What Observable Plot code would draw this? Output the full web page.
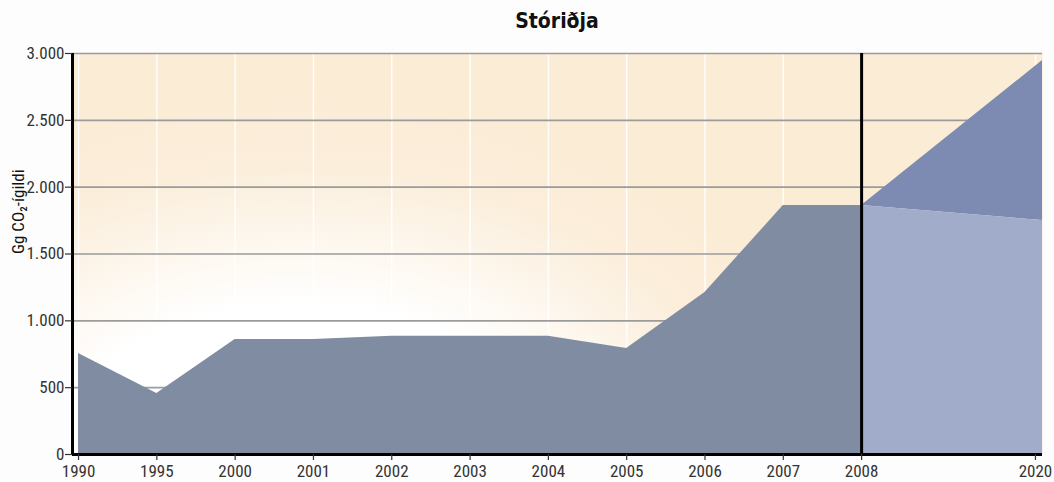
<!DOCTYPE html>
<html>
<head>
<meta charset="utf-8">
<script src="https://cdn.jsdelivr.net/npm/d3@7"></script>
<script src="https://cdn.jsdelivr.net/npm/@observablehq/plot@0.6"></script>
<style>
  html, body { margin: 0; padding: 0; background: #fdfdfd; }
  #title { height: 40px; box-sizing: border-box; padding: 8px 12px 0 72px; text-align: center; line-height: 26px;
           font-family: "DejaVu Sans Condensed", "DejaVu Sans", sans-serif; font-size: 21px; font-weight: bold; color: #111; }
  svg { display: block; }
</style>
</head>
<body>
<div id="title">Stóriðja</div>
<div id="chart"></div>
<script>
// ---- data ----
const years = ["1990", "1995", "2000", "2001", "2002", "2003", "2004", "2005", "2006", "2007", "2008"];
const history = [755, 456, 860, 860, 885, 885, 885, 793, 1212, 1862, 1862];
const projYears = ["2008", "2020"];
const projLow = [1862, 1750];
const projHigh = [1862, 2947];
const tickLabels = ["1990", "1995", "2000", "2001", "2002", "2003", "2004", "2005", "2006", "2007", "2008", "2020"];
const yTicks = [0, 500, 1000, 1500, 2000, 2500, 3000];
const yLabel = "Gg CO₂-ígildi";

// ---- layout helpers ----
const xMin = -0.077, xMax = 12.31;
const slot2020Tick = 12.22;
function slot(year) { const i = years.indexOf(year); return i >= 0 ? i : xMax; }
function tickSlot(year) { const i = years.indexOf(year); return i >= 0 ? i : slot2020Tick; }

const hist = years.map((y, i) => ({x: slot(y), v: history[i]}));
const proj = projYears.map((y, i) => ({x: slot(y), lo: projLow[i], hi: projHigh[i]}));
const xt = tickLabels.map(t => ({x: tickSlot(t), label: t}));

const loc = d3.formatLocale({decimal: ",", thousands: ".", grouping: [3], currency: ["", ""]});
const fmt = loc.format(",");

const FONT = "'Liberation Sans Narrow', 'Roboto Condensed', Roboto, sans-serif";

const chart = Plot.plot({
  width: 1054,
  height: 442,
  marginTop: 13,
  marginBottom: 28,
  marginLeft: 72,
  marginRight: 12,
  style: {fontFamily: FONT, fontSize: "17px", fontWeight: "normal", color: "#333", background: "transparent"},
  x: {type: "linear", domain: [xMin, xMax], axis: null},
  y: {type: "linear", domain: [0, 3000], axis: null},
  marks: [
    Plot.frame({fill: "url(#bgGrad)", stroke: null}),
    Plot.ruleX(xt, {x: "x", stroke: "white", strokeWidth: 1.5, strokeOpacity: 0.9}),
    Plot.ruleY(yTicks.slice(1), {stroke: "#9b9b9b", strokeWidth: 1.6}),
    Plot.areaY(hist, {x: "x", y: "v", fill: "#808ca2"}),
    Plot.areaY(proj, {x: "x", y1: "lo", y2: "hi", fill: "#7d8bb2"}),
    Plot.areaY(proj, {x: "x", y: "lo", fill: "#a0acca"}),
    Plot.ruleX([slot("2008")], {stroke: "black", strokeWidth: 3}),
    Plot.ruleX([xMin], {stroke: "black", strokeWidth: 3}),
    Plot.ruleY([0], {stroke: "black", strokeWidth: 3}),
    // y axis
    Plot.ruleY(yTicks, {y: d => d, x1: xMin, x2: xMin, stroke: "#333", strokeWidth: 1.2, insetLeft: -7}),
    Plot.text(yTicks, {y: d => d, x: xMin, text: d => fmt(d), textAnchor: "end", dx: -8, fill: "#333", fontSize: 17, fontWeight: "normal"}),
    // x axis
    Plot.ruleX(xt, {x: "x", y1: 0, y2: 0, stroke: "#333", strokeWidth: 1.2, insetBottom: -6}),
    Plot.text(xt, {x: "x", y: 0, text: "label", dy: 17, fill: "#333", fontSize: 17, fontWeight: "normal"}),
    // y label
    Plot.text([yLabel], {frameAnchor: "left", rotate: -90, dx: -54, fill: "#111", fontSize: 17, fontWeight: "normal"})
  ]
});

// gradient defs
const ns = "http://www.w3.org/2000/svg";
const defs = document.createElementNS(ns, "defs");
defs.innerHTML = `<radialGradient id="bgGrad" gradientUnits="userSpaceOnUse" cx="300" cy="440" r="560" fx="300" fy="440" gradientTransform="translate(300 440) scale(1 0.7) translate(-300 -440)">
  <stop offset="0" stop-color="#ffffff"/>
  <stop offset="0.45" stop-color="#ffffff"/>
  <stop offset="0.8" stop-color="#fbeedb"/>
  <stop offset="1" stop-color="#fbecd6"/>
</radialGradient>`;
chart.insertBefore(defs, chart.firstChild);
document.getElementById("chart").appendChild(chart);
</script>
</body>
</html>
